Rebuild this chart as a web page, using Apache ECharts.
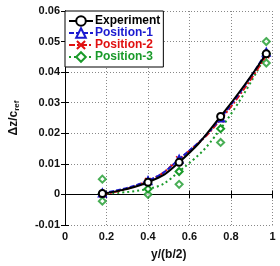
<!DOCTYPE html>
<html>
<head>
<meta charset="utf-8">
<script src="https://cdn.jsdelivr.net/npm/echarts@6.0.0/dist/echarts.min.js"></script>
<style>
  html, body { margin: 0; padding: 0; background: #fff; }
  #chart { width: 280px; height: 266px; }
</style>
</head>
<body>
<div id="chart"></div>
<script>
// spanwise stations y/(b/2)
var xPos = [0.18, 0.4, 0.55, 0.75, 0.97];
var experiment = [0.0003, 0.004, 0.0105, 0.0255, 0.046];
var position1 = [0.0005, 0.0045, 0.0115, 0.025, 0.0465];
var position2 = [0.0, 0.0044, 0.0115, 0.0245, 0.0455];
var position3 = [0.0003, 0.0018, 0.0075, 0.0215, 0.046];
// scattered Position-3 points off the fit
var pos3ExtraX = [0.18, 0.18, 0.4, 0.55, 0.75, 0.97, 0.97];
var pos3ExtraY = [0.005, -0.0022, 0.0, 0.0033, 0.017, 0.05, 0.043];
var seriesNames = ['Experiment', 'Position-1', 'Position-2', 'Position-3'];
var seriesColors = ['#000000', '#1a1ad0', '#e01010', '#1a9a2a'];

function pairs(xs, ys) {
    return xs.map(function (x, i) { return [x, ys[i]]; });
}

// thin X cross as a filled polygon
var crossPath = 'path://M0,1.5L1.5,0L5,3.5L8.5,0L10,1.5L6.5,5L10,8.5L8.5,10L5,6.5L1.5,10L0,8.5L3.5,5Z';

var myChart = echarts.init(document.getElementById('chart'));

var ff = 'Liberation Sans, Arial, sans-serif';

var option = {
    animation: false,
    backgroundColor: '#fff',
    grid: { left: 64.5, right: 7.5, top: 11, bottom: 41, containLabel: false },
    legend: {
        left: 65, top: 11,
        orient: 'vertical',
        itemGap: 0,
        itemWidth: 24, itemHeight: 12,
        padding: [4, 3, 4, 3],
        backgroundColor: '#fff',
        borderColor: '#000', borderWidth: 1, borderRadius: 0,
        data: seriesNames.map(function (n, i) {
            return { name: n, textStyle: { color: seriesColors[i] } };
        }),
        textStyle: { fontFamily: ff, fontWeight: 'bold', fontSize: 12, padding: [0, 0, 0, -3] }
    },
    xAxis: [{
        type: 'value', min: 0, max: 1, interval: 0.2,
        name: 'y/(b/2)', nameLocation: 'middle', nameGap: 24,
        nameTextStyle: { color: '#111', fontFamily: ff, fontWeight: 'bold', fontSize: 12 },
        axisLine: { lineStyle: { color: '#000', width: 1 } },
        axisTick: { inside: true, length: 4, lineStyle: { color: '#000' } },
        axisLabel: { color: '#111', fontFamily: ff, fontWeight: 'bold', fontSize: 11, margin: 6,
            formatter: function (v) { return String(+v.toFixed(1)); } },
        splitLine: { show: true, lineStyle: { color: '#888', type: [1, 2], width: 1 } }
    }, {
        type: 'value', min: 0, max: 1, interval: 0.2, position: 'top',
        axisLine: { lineStyle: { color: '#000', width: 1 } },
        axisTick: { inside: true, length: 4, lineStyle: { color: '#000' } },
        axisLabel: { show: false }, splitLine: { show: false }
    }],
    yAxis: [{
        type: 'value', min: -0.01, max: 0.06, interval: 0.01,
        name: '{a|Δz/c}{b|ref}', nameLocation: 'middle', nameGap: 44, nameRotate: 90,
        nameTextStyle: {
            rich: {
                a: { color: '#111', fontFamily: ff, fontWeight: 'bold', fontSize: 12 },
                b: { color: '#111', fontFamily: ff, fontWeight: 'bold', fontSize: 8, padding: [6, 0, 0, 0] }
            }
        },
        axisLine: { lineStyle: { color: '#000', width: 1 } },
        axisTick: { inside: true, length: 4, lineStyle: { color: '#000' } },
        axisLabel: { color: '#111', fontFamily: ff, fontWeight: 'bold', fontSize: 11, margin: 5,
            formatter: function (v) { return Math.abs(v) < 1e-9 ? '0' : v.toFixed(2); } },
        splitLine: { show: true, lineStyle: { color: '#888', type: [1, 2], width: 1 } }
    }, {
        type: 'value', min: -0.01, max: 0.06, interval: 0.01, position: 'right',
        axisLine: { show: true, lineStyle: { color: '#000', width: 1 } },
        axisTick: { show: true, inside: true, length: 4, lineStyle: { color: '#000' } },
        axisLabel: { show: false }, splitLine: { show: false }
    }],
    series: [
        {
            name: 'Position-3 points', type: 'scatter', data: pairs(pos3ExtraX, pos3ExtraY),
            symbol: 'emptyDiamond', symbolSize: 7,
            itemStyle: { color: seriesColors[3], borderWidth: 1.5 }, z: 3
        },
        {
            name: 'Position-3', type: 'line', smooth: true, data: pairs(xPos, position3),
            symbol: 'emptyDiamond', symbolSize: 7, showAllSymbol: true,
            itemStyle: { color: seriesColors[3], borderWidth: 1.5 },
            lineStyle: { color: seriesColors[3], width: 2, type: [2, 3] }, z: 3
        },
        {
            name: 'Position-2', type: 'line', smooth: true, data: pairs(xPos, position2),
            symbol: crossPath, symbolSize: 7, showAllSymbol: true,
            itemStyle: { color: seriesColors[2] },
            lineStyle: { color: seriesColors[2], width: 2, type: [6, 2, 2, 2] }, z: 4
        },
        {
            name: 'Position-1', type: 'line', smooth: true, data: pairs(xPos, position1),
            symbol: 'emptyTriangle', symbolSize: 7, showAllSymbol: true,
            itemStyle: { color: seriesColors[1], borderWidth: 1.5 },
            lineStyle: { color: seriesColors[1], width: 2, type: [5, 2] }, z: 5
        },
        {
            name: 'Experiment', type: 'line', smooth: true, data: pairs(xPos, experiment),
            symbol: 'emptyCircle', symbolSize: 7, showAllSymbol: true,
            itemStyle: { color: seriesColors[0], borderWidth: 1.5 },
            lineStyle: { color: seriesColors[0], width: 2 }, z: 6
        }
    ]
};

myChart.setOption(option);
</script>
</body>
</html>
